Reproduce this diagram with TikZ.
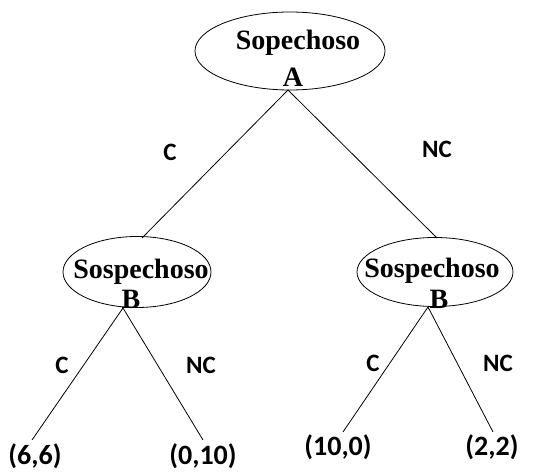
\documentclass[tikz,border=0pt]{standalone}
\usepackage{fontspec}
\setmainfont{Liberation Serif}
\newfontfamily\lblfont{Carlito}[BoldFont={* Bold}]
\usetikzlibrary{shapes.geometric}
\begin{document}
\begin{tikzpicture}[x=1pt,y=-1pt,
  oval/.style={draw, ellipse, line width=0.8pt, inner sep=0pt},
  ptext/.style={font=\fontsize{28}{30}\selectfont\bfseries, anchor=base, inner sep=0pt},
  elabel/.style={font=\lblfont\bfseries\fontsize{25}{27}\selectfont, inner sep=0pt},
  leaf/.style={font=\lblfont\bfseries\fontsize{28}{30}\selectfont, inner sep=0pt},
  edge/.style={line width=0.8pt}]
\useasboundingbox (0,0) rectangle (549,473);
% ellipses
\node[oval, minimum width=190pt, minimum height=78pt] (A) at (290,51) {};
\node[oval, minimum width=148pt, minimum height=71pt] (BL) at (137,272) {};
\node[oval, minimum width=156pt, minimum height=69pt] (BR) at (435,272) {};
% texts
\node[ptext] (tA) at (298,50) {Sopechoso};
\node[ptext] (tA2) at (293,87) {A};
\node[ptext] (tBL) at (141,278) {Sospechoso};
\node[ptext] (tBL2) at (131,308) {B};
\node[ptext] (tBR) at (432,277) {Sospechoso};
\node[ptext] (tBR2) at (439,308) {B};
% junction points
\coordinate (jA) at (288,90);
\coordinate (jBL) at (123,308);
\coordinate (jBR) at (428,307);
\coordinate (topBL) at (142,238);
\coordinate (topBR) at (437,238);
% leaves
\node[leaf] (l1) at (35,456) {(6,6)};
\node[leaf] (l2) at (203,456) {(0,10)};
\node[leaf] (l3) at (338,447) {(10,0)};
\node[leaf] (l4) at (492,447) {(2,2)};
\coordinate (e1) at (32,440);
\coordinate (e2) at (203,440);
\coordinate (e3) at (343,432);
\coordinate (e4) at (493,432);
% edges
\draw[edge] (jA) -- (topBL);
\draw[edge] (jA) -- (topBR);
\draw[edge] (jBL) -- (e1);
\draw[edge] (jBL) -- (e2);
\draw[edge] (jBR) -- (e3);
\draw[edge] (jBR) -- (e4);
% edge labels
\node[elabel] (c1) at (170,152) {C};
\node[elabel] (nc1) at (437,149) {NC};
\node[elabel] (c2) at (62,365) {C};
\node[elabel] (nc2) at (201,365) {NC};
\node[elabel] (c3) at (373,363) {C};
\node[elabel] (nc3) at (498,363) {NC};
\end{tikzpicture}
\end{document}
